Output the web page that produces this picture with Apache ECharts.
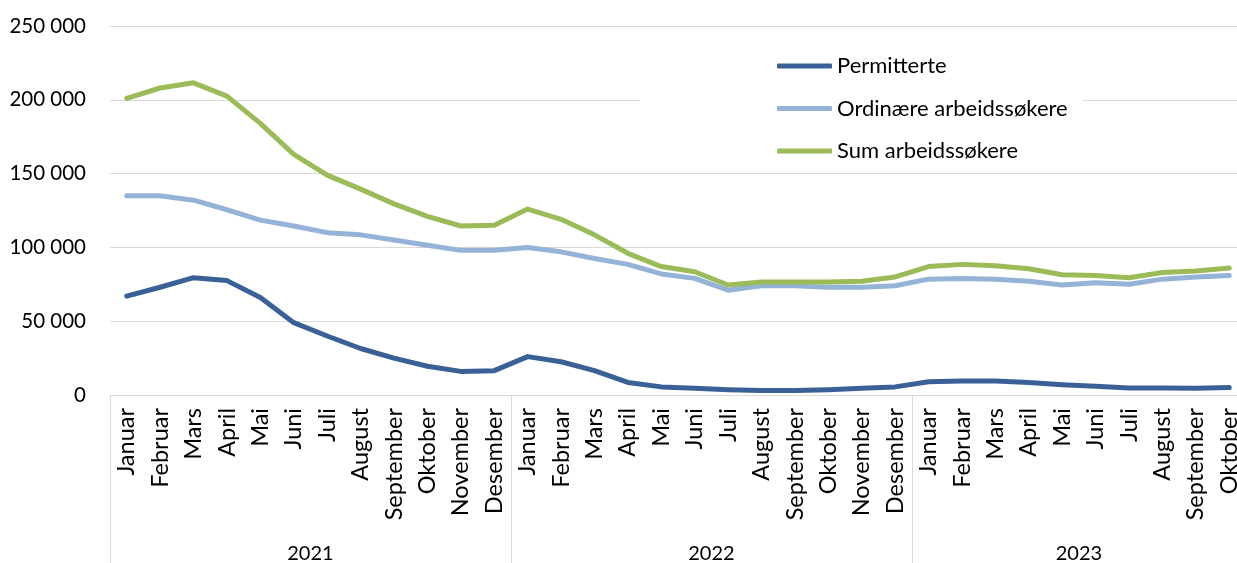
<!DOCTYPE html>
<html><head><meta charset="utf-8">
<script src="https://cdn.jsdelivr.net/npm/echarts@6/dist/echarts.min.js"></script>
<style>html,body{margin:0;padding:0;background:#fff}#c{width:1237px;height:563px}</style>
</head><body><div id="c"></div>
<script>
const months = ['Januar','Februar','Mars','April','Mai','Juni','Juli','August','September','Oktober','November','Desember',
 'Januar','Februar','Mars','April','Mai','Juni','Juli','August','September','Oktober','November','Desember',
 'Januar','Februar','Mars','April','Mai','Juni','Juli','August','September','Oktober'];
const years = ['2021','2022','2023'];
const yearBoundaries = [0, 12, 24, 34];
const yearCenters = [6, 18, 29];
const permitterte = [67000,73000,79500,77500,66000,49000,40000,31500,25000,19500,16000,16500,
 26000,22500,16500,8500,5500,4500,3500,3000,3000,3500,4500,5500,
 9000,9500,9500,8500,7000,6000,4800,4800,4500,5000];
const ordinaere = [135000,135000,132000,125500,118500,114500,110000,108500,105000,101500,98000,98000,
 100000,97000,92500,88500,82000,79000,71000,74000,74000,73000,73000,74000,
 78500,79000,78500,77000,74500,76000,75000,78500,80000,81000];
const sum = [201000,208000,211500,202500,184000,163000,149000,139500,129500,121000,114500,115000,
 126000,119000,108500,96000,87000,83500,74500,76500,76500,76500,77000,80000,
 87000,88500,87500,85500,81500,81000,79500,83000,84000,86000];
const yTicks = [0,50000,100000,150000,200000,250000];

const font = 'Lato, "Noto Sans", sans-serif';
const chart = echarts.init(document.getElementById('c'), null, {renderer:'canvas'});
const fmt = v => v === 0 ? '0' : String(v).replace(/\B(?=(\d{3})+(?!\d))/g, ' ');
const mkLine = (name, data, color) => ({
  name, type:'line', data, xAxisIndex:0, yAxisIndex:0, symbol:'none', smooth:false,
  lineStyle:{color, width:5, cap:'round', join:'round'}, itemStyle:{color}, z:2
});
chart.setOption({
  animation:false,
  textStyle:{fontFamily:font},
  grid:{left:110, width:1136, top:26, bottom:168, containLabel:false, outerBoundsMode:'none'},
  legend:{
    orient:'vertical', left:640, top:38,
    padding:[17,15,5,137], itemGap:20.5, itemWidth:55, itemHeight:5,
    backgroundColor:'#ffffff',
    icon:'roundRect',
    textStyle:{fontFamily:font, fontSize:22, lineHeight:21, color:'#000'},
    data:['Permitterte','Ordinære arbeidssøkere','Sum arbeidssøkere'],
    z:10
  },
  xAxis:[
    {type:'category', data:months, boundaryGap:true, position:'bottom',
     axisLine:{show:true, lineStyle:{color:'#d9d9d9', width:1}},
     axisTick:{show:false},
     axisLabel:{rotate:90, interval:0, fontFamily:font, fontSize:23.5, color:'#000', margin:13},
     splitLine:{show:false}},
    {type:'value', min:0, max:34, position:'bottom', offset:0,
     axisLine:{show:false},
     axisTick:{show:true, customValues:yearBoundaries, length:168, lineStyle:{color:'#d9d9d9', width:1}},
     axisLabel:{show:true, customValues:yearCenters, margin:149, fontFamily:font, fontSize:20, color:'#000',
       formatter:v => years[yearCenters.indexOf(v)] || ''},
     splitLine:{show:false}}
  ],
  yAxis:{type:'value', min:0, max:250000, interval:50000,
    axisLine:{show:false}, axisTick:{show:false},
    axisLabel:{formatter:fmt, fontFamily:font, fontSize:20.5, color:'#000', margin:24},
    splitLine:{show:true, lineStyle:{color:'#d9d9d9', width:1}}},
  series:[
    mkLine('Permitterte', permitterte, '#3a6195'),
    mkLine('Ordinære arbeidssøkere', ordinaere, '#95b3d7'),
    mkLine('Sum arbeidssøkere', sum, '#9bbb59'),
    {type:'line', xAxisIndex:1, data:[], silent:true}
  ]
});
</script></body></html>
